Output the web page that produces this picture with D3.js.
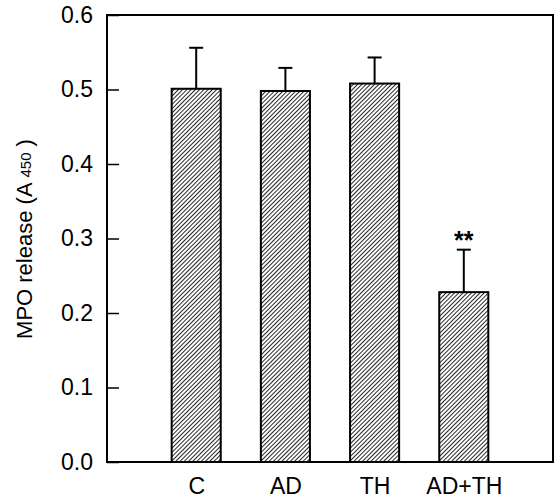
<!DOCTYPE html>
<html><head><meta charset="utf-8">
<script src="https://cdn.jsdelivr.net/npm/d3@7"></script>
<style>body{margin:0;background:#fff}svg{display:block}text{font-family:Arial,"Liberation Sans",sans-serif;fill:#000}</style>
</head><body>
<script>
const categories = ["C","AD","TH","AD+TH"];
const means = [0.501, 0.498, 0.508, 0.228];
const errors = [0.055, 0.031, 0.035, 0.057];
const marks = ["", "", "", "**"];
const yTicks = [0.0,0.1,0.2,0.3,0.4,0.5,0.6];

const W=556,H=500;
const m={left:107,right:3,top:15,bottom:38};
const svg=d3.select("body").append("svg").attr("width",W).attr("height",H);
const defs=svg.append("defs");
const pat=defs.append("pattern").attr("id","hatch").attr("patternUnits","userSpaceOnUse")
  .attr("width",3).attr("height",3).attr("patternTransform","rotate(45)");
pat.append("rect").attr("width",3).attr("height",3).attr("fill","#fff");
pat.append("line").attr("x1",0).attr("y1",0).attr("x2",0).attr("y2",3).attr("stroke","#000").attr("stroke-width",1.7);

const x=d3.scalePoint().domain(categories).range([m.left,W-m.right]).padding(1);
const y=d3.scaleLinear().domain([0,0.6]).range([H-m.bottom,m.top]);
const bw=x.step()*0.55;

// bars
svg.selectAll("rect.bar").data(categories).enter().append("rect")
  .attr("x",d=>x(d)-bw/2).attr("y",(d,i)=>y(means[i]))
  .attr("width",bw).attr("height",(d,i)=>y(0)-y(means[i]))
  .attr("fill","url(#hatch)").attr("stroke","#000").attr("stroke-width",2);

// error bars
const eg=svg.append("g").attr("stroke","#000").attr("stroke-width",2);
categories.forEach((c,i)=>{
  eg.append("line").attr("x1",x(c)).attr("x2",x(c)).attr("y1",y(means[i])).attr("y2",y(means[i]+errors[i]));
  eg.append("line").attr("x1",x(c)-7).attr("x2",x(c)+7).attr("y1",y(means[i]+errors[i])).attr("y2",y(means[i]+errors[i]));
  if(marks[i]) svg.append("text").attr("x",x(c)).attr("y",y(means[i]+errors[i])-1)
    .attr("text-anchor","middle").attr("font-size",25).attr("font-weight","bold").text(marks[i]);
});

// frame
svg.append("rect").attr("x",m.left).attr("y",m.top).attr("width",W-m.right-m.left).attr("height",H-m.bottom-m.top)
  .attr("fill","none").attr("stroke","#000").attr("stroke-width",2);

// y axis
const ya=svg.append("g").attr("transform",`translate(${m.left},0)`)
  .call(d3.axisLeft(y).tickValues(yTicks).tickFormat(d3.format(".1f")).tickSize(-12).tickPadding(14));
ya.select(".domain").remove();
ya.selectAll(".tick line").attr("stroke-width",1.5);
ya.selectAll(".tick text").attr("font-size",23).attr("font-family","Arial, 'Liberation Sans', sans-serif");

// x labels
const xa=svg.append("g").attr("transform",`translate(0,${H-m.bottom})`)
  .call(d3.axisBottom(x).tickSize(0).tickPadding(16));
xa.select(".domain").remove();
xa.selectAll(".tick text").attr("font-size",23).attr("font-family","Arial, 'Liberation Sans', sans-serif");

// y label
const yl=svg.append("text").attr("transform","translate(32,239) rotate(-90)").attr("text-anchor","middle").attr("font-size",22);
yl.append("tspan").text("MPO release (A ");
yl.append("tspan").attr("font-size",15).attr("dy",-1).text("450");
yl.append("tspan").attr("dy",1).text(" )");
</script>
</body></html>
